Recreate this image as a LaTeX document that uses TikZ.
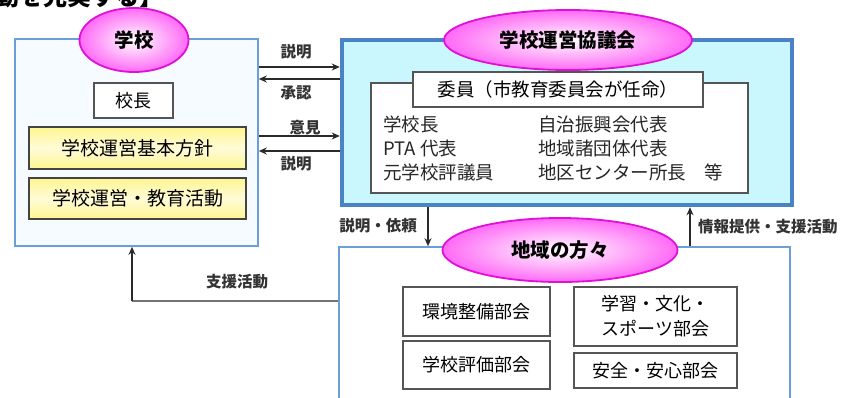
\documentclass[tikz,border=0pt]{standalone}
\usepackage{fontspec}
\setmainfont{Noto Sans CJK JP}
\usetikzlibrary{arrows.meta,shapes.geometric,calc}
\definecolor{boxblue}{HTML}{6A9FDA}
\definecolor{thickblue}{HTML}{4A82C6}
\definecolor{cyanfill}{HTML}{C9F7FD}
\definecolor{schoolfill}{HTML}{F6FBFF}
\definecolor{magborder}{HTML}{E010D8}
\definecolor{magfill}{HTML}{FF6AF6}
\definecolor{yel}{HTML}{FFF590}
\definecolor{graybd}{HTML}{555555}
\definecolor{arrcol}{HTML}{2A2A2A}
\tikzset{
  px/.style={x=1pt,y=-1pt},
  bigbox/.style={draw=boxblue,line width=1.6pt,inner sep=0pt,rectangle},
  oval/.style={ellipse,draw=magborder,line width=1.8pt,inner sep=0pt,
    inner color=white,outer color=magfill,font=\fontsize{19.5}{22}\selectfont\bfseries},
  wbox/.style={draw=graybd,line width=1.2pt,fill=white,inner sep=0pt,rectangle,
    font=\fontsize{18}{22}\selectfont},
  ybox/.style={draw=graybd!80!black,line width=1.3pt,inner sep=0pt,rectangle,
    top color=yel,bottom color=yel,middle color=yel!35,
    font=\fontsize{19}{22}\selectfont},
  memb/.style={anchor=west,inner sep=0pt,font=\fontsize{18.5}{22}\selectfont,text=black!85},
  lbl/.style={inner sep=0pt,font=\fontsize{15.5}{17}\selectfont\bfseries,text=black!80},
  arr/.style={draw=arrcol,line width=1.3pt,-{Stealth[length=8pt,width=7pt]}},
}
\begin{document}
\begin{tikzpicture}[px]
\useasboundingbox (0,0) rectangle (842,397);
\clip (0,0) rectangle (842,397);
\fill[white] (0,0) rectangle (842,397);
% title fragment (cut off at top, as in the reference)
\node[anchor=base west,inner sep=0pt,font=\fontsize{24}{26}\selectfont\bfseries] (title) at (-5,5) {動を充実する】};

% school box
\node[bigbox,fill=schoolfill,minimum width=243pt,minimum height=207pt] (school) at (136.5,142.5) {};
\node[oval,minimum width=109pt,minimum height=64pt] (schoolov) at (134,40) {学校};
\node[wbox,minimum width=79pt,minimum height=35pt] (kocho) at (133.5,100.5) {校長};
\node[ybox,minimum width=217pt,minimum height=42pt] (hoshin) at (137.5,148) {学校運営基本方針};
\node[ybox,minimum width=217pt,minimum height=41pt] (katsudo) at (137.5,198.5) {学校運営・教育活動};

% council box
\node[rectangle,draw=thickblue,line width=4.5pt,fill=cyanfill,inner sep=0pt,minimum width=450pt,minimum height=165pt] (council) at (567,122.5) {};
\node[rectangle,draw=graybd,line width=1.2pt,fill=white,inner sep=0pt,minimum width=377pt,minimum height=110pt] (inner) at (559.5,138) {};
\node[wbox,minimum width=290pt,minimum height=35pt,font=\fontsize{18.5}{22}\selectfont] (iin) at (558,89.5) {委員（市教育委員会が任命）};
\node[oval,minimum width=248pt,minimum height=60pt] (councilov) at (568,40) {学校運営協議会};
\node[memb] (m1) at (383,124) {学校長};
\node[memb] (m2) at (383,148) {PTA 代表};
\node[memb] (m3) at (383,172) {元学校評議員};
\node[memb] (m4) at (538,124) {自治振興会代表};
\node[memb] (m5) at (538,148) {地域諸団体代表};
\node[memb] (m6) at (538,172) {地区センター所長　等};

% community box
\node[bigbox,fill=white,minimum width=451pt,minimum height=173pt] (chiiki) at (564.5,333.5) {};
\node[oval,minimum width=235pt,minimum height=64pt] (chiikiov) at (560,250) {地域の方々};
\node[wbox,minimum width=147pt,minimum height=49pt] (kankyo) at (476.5,311.5) {環境整備部会};
\node[wbox,minimum width=147pt,minimum height=48pt] (hyoka) at (476.5,365) {学校評価部会};
\node[wbox,minimum width=163pt,minimum height=59pt,align=center,font=\fontsize{18}{25}\selectfont] (gakushu) at (655.5,316.5) {学習・文化・\\スポーツ部会};
\node[wbox,minimum width=163pt,minimum height=35pt] (anzen) at (655.5,370.5) {安全・安心部会};

% arrows between school and council
\coordinate (r1) at (300,67);
\coordinate (r2) at (300,79);
\coordinate (r3) at (300,136);
\coordinate (r4) at (300,151);
\draw[arr] (r1 -| school.east) -- (r1 -| council.west);
\draw[arr] (r2 -| council.west) -- (r2 -| school.east);
\draw[arr] (r3 -| school.east) -- (r3 -| council.west);
\draw[arr] (r4 -| council.west) -- (r4 -| school.east);
\node[lbl] (l1) at (296,52) {説明};
\node[lbl] (l2) at (296,93) {承認};
\node[lbl] (l3) at (305,128) {意見};
\node[lbl] (l4) at (296,164) {説明};

% council <-> community
\coordinate (d1) at (428,220);
\coordinate (d2) at (690,220);
\draw[arr] (d1 |- council.south) -- (d1 |- chiiki.north);
\draw[arr] (d2 |- chiiki.north) -- (d2 |- council.south);
\node[lbl] (l5) at (378,226) {説明・依頼};
\node[lbl,anchor=west] (l6) at (698,227) {情報提供・支援活動};

% community -> school
\coordinate (s1) at (132,301);
\draw[draw=black!55,line width=1.2pt] (s1 -| chiiki.west) -- (s1);
\draw[arr] (s1) -- (s1 |- school.south);
\node[lbl] (l7) at (237,282) {支援活動};
\end{tikzpicture}
\end{document}
